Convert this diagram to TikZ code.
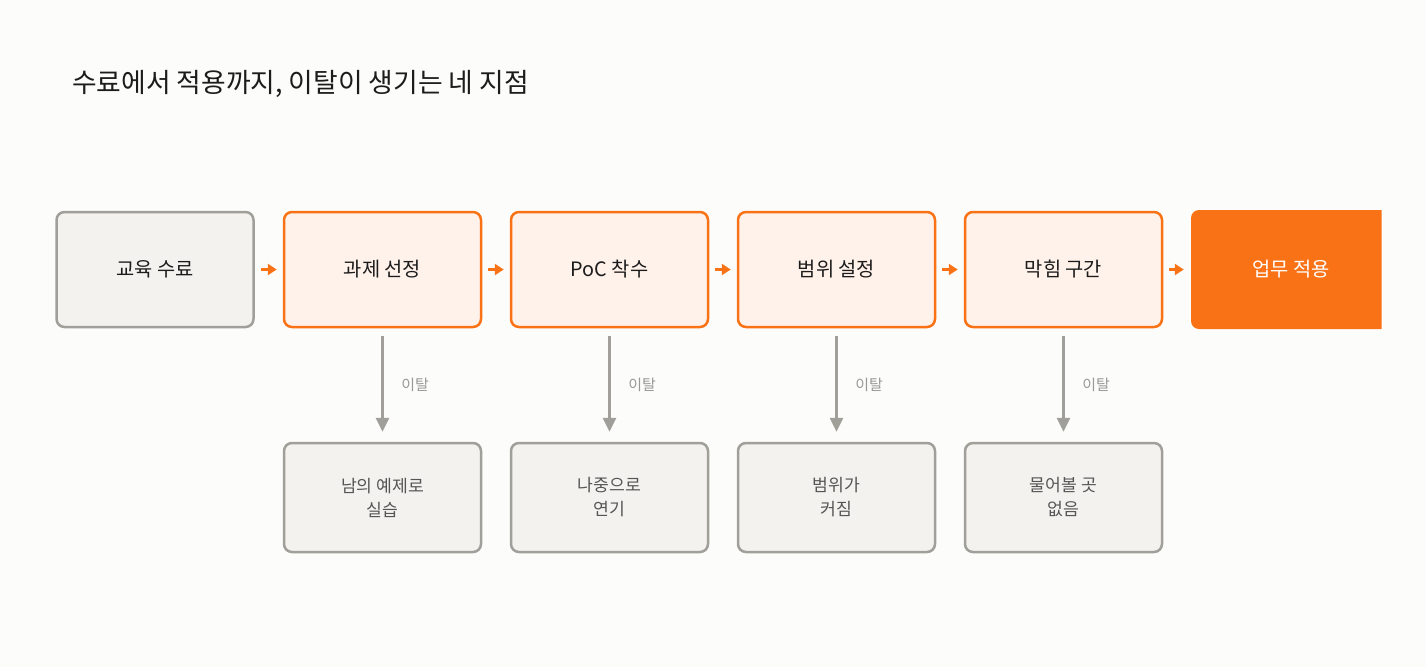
\documentclass[tikz,border=0pt]{standalone}
\usepackage{fontspec}
\setmainfont{Noto Sans CJK KR}
\usetikzlibrary{arrows.meta}
\definecolor{bgc}{HTML}{FCFCFB}
\definecolor{org}{HTML}{F97316}
\definecolor{orgfill}{HTML}{FFF2EA}
\definecolor{grayline}{HTML}{A09F9A}
\definecolor{grayfill}{HTML}{F3F2EE}
\definecolor{darktext}{HTML}{1C1C1C}
\definecolor{midtext}{HTML}{555555}
\definecolor{lbltext}{HTML}{999999}
\tikzset{
  box/.style={rounded corners=8pt, line width=2.5pt, minimum width=197pt, minimum height=115pt, inner sep=0pt, align=center},
  startbox/.style={box, draw=grayline, fill=grayfill, text=darktext, font=\fontsize{19.8pt}{24pt}\selectfont},
  stagebox/.style={box, draw=org, fill=orgfill, text=darktext, font=\fontsize{19.8pt}{24pt}\selectfont},
  endbox/.style={box, draw=none, fill=org, minimum width=200pt, minimum height=119pt, text=white, font=\fontsize{19.8pt}{24pt}\selectfont},
  dropbox/.style={rounded corners=8pt, line width=2.5pt, minimum width=197pt, minimum height=109pt, inner sep=0pt, align=center, draw=grayline, fill=grayfill, text=midtext, font=\fontsize{17.2pt}{24pt}\selectfont},
  harrow/.style={draw=org, line width=2.5pt, -{Triangle[length=9pt,width=11pt]}, shorten <=6pt, shorten >=6pt},
  varrow/.style={draw=grayline, line width=3pt, -{Triangle[length=14pt,width=13pt]}, shorten <=8pt, shorten >=10pt},
  lbl/.style={text=lbltext, font=\fontsize{15pt}{18pt}\selectfont, right=14pt}
}
\begin{document}
\begin{tikzpicture}[x=1pt,y=-1pt]
\useasboundingbox (0,0) rectangle (1426,667);
\fill[bgc] (0,0) rectangle (1426,667);
\node[anchor=west, text=darktext, font=\fontsize{26.8pt}{30pt}\selectfont, inner sep=0pt] (title) at (72,84) {수료에서 적용까지, 이탈이 생기는 네 지점};
\node[startbox] (b1) at (155,269.5) {교육 수료};
\node[stagebox] (b2) at (382.5,269.5) {과제 선정};
\node[stagebox] (b3) at (609.5,269.5) {PoC 착수};
\node[stagebox] (b4) at (836.5,269.5) {범위 설정};
\node[stagebox] (b5) at (1063.5,269.5) {막힘 구간};
\begin{scope}
\clip (0,0) rectangle (1381.5,667);
\node[endbox] (b6) at (1291,269.5) {업무 적용};
\end{scope}
\node[dropbox] (d2) at (382.5,497.5) {남의 예제로\\실습};
\node[dropbox] (d3) at (609.5,497.5) {나중으로\\연기};
\node[dropbox] (d4) at (836.5,497.5) {범위가\\커짐};
\node[dropbox] (d5) at (1063.5,497.5) {물어볼 곳\\없음};
\draw[harrow] (b1) -- (b2);
\draw[harrow] (b2) -- (b3);
\draw[harrow] (b3) -- (b4);
\draw[harrow] (b4) -- (b5);
\draw[harrow] (b5.east) -- (b6.west);
\draw[varrow] (b2) -- node[lbl] (l2) {이탈} (d2);
\draw[varrow] (b3) -- node[lbl] (l3) {이탈} (d3);
\draw[varrow] (b4) -- node[lbl] (l4) {이탈} (d4);
\draw[varrow] (b5) -- node[lbl] (l5) {이탈} (d5);
\end{tikzpicture}
\end{document}
